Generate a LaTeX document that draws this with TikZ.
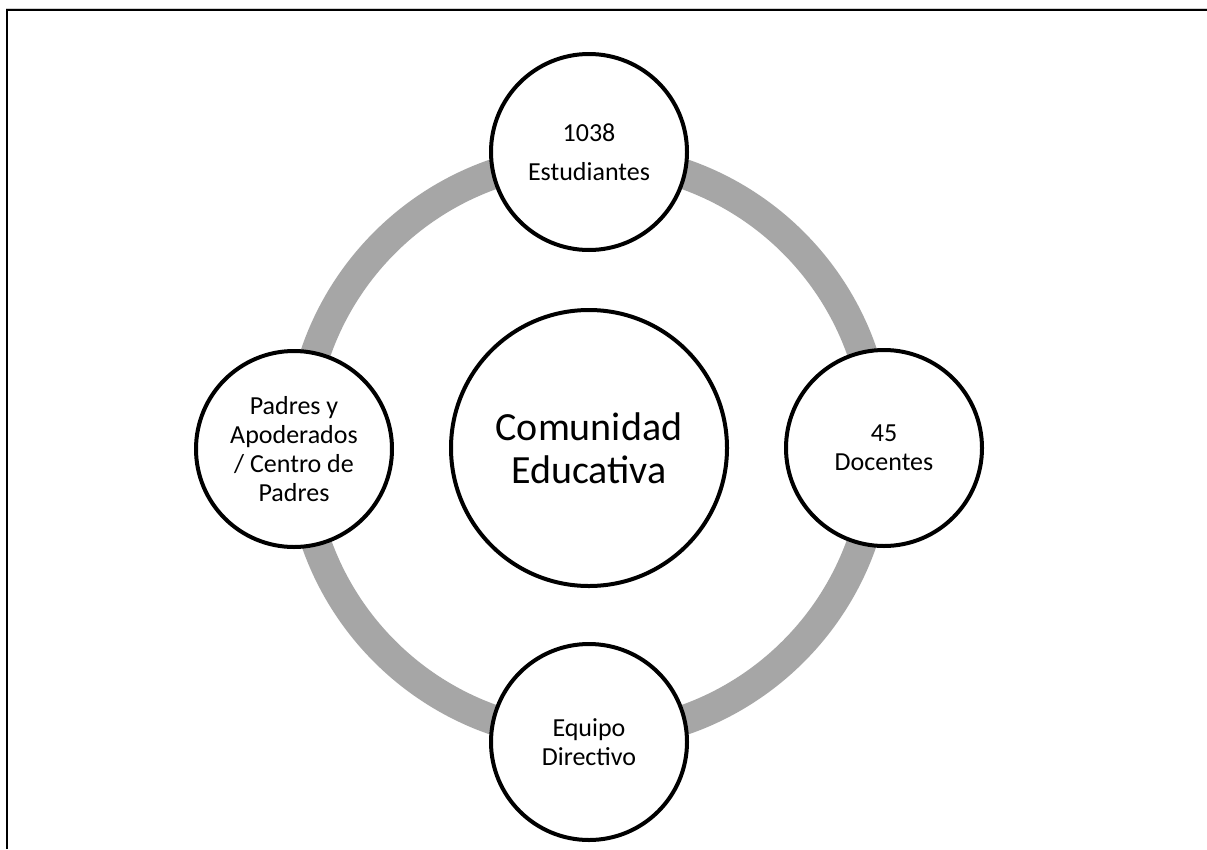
\documentclass[tikz,border=0pt]{standalone}
\usepackage{fontspec}
\setmainfont{Carlito}
\definecolor{ringgray}{HTML}{A6A6A6}
\definecolor{framegray}{HTML}{D0D0D0}
\begin{document}
\begin{tikzpicture}[x=1pt,y=-1pt,
  member/.style={circle, draw=black, line width=4pt, fill=white, minimum size=196pt, inner sep=0pt, align=center, font=\fontsize{26}{29}\selectfont},
  core/.style={circle, draw=black, line width=4pt, fill=white, minimum size=276pt, inner sep=0pt, align=center, font=\fontsize{40}{43}\selectfont},
  ring/.style={draw=ringgray, line width=30pt},
  frame/.style={draw=black, line width=2.5pt}]
\useasboundingbox (0,0) rectangle (1207,849);
\fill[white] (0,0) rectangle (1207,849);
\draw[framegray, line width=1pt] (6,8) -- (1207,8);
\draw[frame] (7,849) -- (7,10) -- (1207,10);
\coordinate (c) at (589,447);
\draw[ring] (c) circle[radius=289pt];
\node[core] (cen) at (589,448) {Comunidad\\Educativa};
\node[member] (top) at (589,152) {1038\\[10pt]Estudiantes};
\node[member] (right) at (884,448) {45\\Docentes};
\node[member] (bottom) at (589,742) {Equipo\\Directivo};
\node[member] (left) at (294,449) {Padres y\\Apoderados\\/ Centro de\\Padres};
\end{tikzpicture}
\end{document}
